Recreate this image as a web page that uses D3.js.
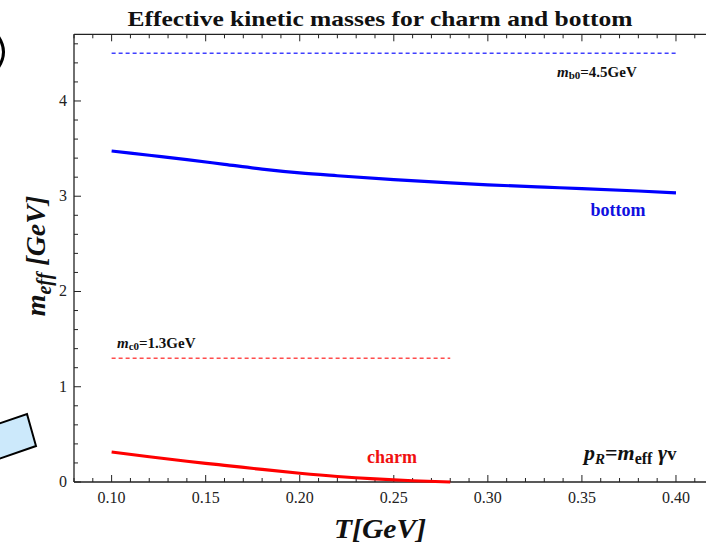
<!DOCTYPE html>
<html>
<head>
<meta charset="utf-8">
<script src="https://cdn.jsdelivr.net/npm/d3@7"></script>
<style>
  html, body { margin: 0; padding: 0; background: #fff; }
  svg { display: block; }
  text { font-family: "Liberation Serif", "Times New Roman", serif; }
</style>
</head>
<body>
<svg id="chart" width="706" height="544"></svg>
<script>
// Temperature grid (GeV) and effective kinetic masses (GeV)
const bottomT    = [0.10, 0.12, 0.14, 0.16, 0.18, 0.20, 0.22, 0.25, 0.28, 0.30, 0.33, 0.35, 0.38, 0.40];
const bottomMass = [3.475, 3.43, 3.385, 3.335, 3.285, 3.245, 3.215, 3.175, 3.14, 3.12, 3.095, 3.08, 3.055, 3.035];
const charmT     = [0.10, 0.12, 0.14, 0.15, 0.16, 0.18, 0.20, 0.22, 0.24, 0.26, 0.28];
const charmMass  = [0.315, 0.265, 0.218, 0.196, 0.175, 0.132, 0.092, 0.058, 0.032, 0.013, 0.0];
// Bare (vacuum) masses
const bareBottom = 4.5, bareCharm = 1.3;
const bareBottomRange = [0.10, 0.40];
const bareCharmRange  = [0.10, 0.28];
// Axis ticks
const xTicks = [0.10, 0.15, 0.20, 0.25, 0.30, 0.35, 0.40];
const yTicks = [0, 1, 2, 3, 4];

const svg = d3.select("#chart");
const x = d3.scaleLinear().domain([0.08, 0.42]).range([74, 713.6]);
const y = d3.scaleLinear().domain([0, 4.7]).range([482, 34.3]);

// stray marks from the neighbouring panel
svg.append("path").attr("d", "M -2 36 Q 9 52 -2 68")
  .attr("fill", "none").attr("stroke", "#000").attr("stroke-width", 3);
svg.append("path")
  .attr("d", "M -20 430 L 27 414 L 36 446 L -10 462 Z")
  .attr("fill", "#cce9fb").attr("stroke", "#000").attr("stroke-width", 2);

// frame: left and top edges, bottom axis line
const frame = svg.append("g").attr("stroke", "#222").attr("stroke-width", 1.3).attr("fill", "none");
frame.append("line").attr("x1", 74).attr("x2", 74).attr("y1", 34.3).attr("y2", 482);
frame.append("line").attr("x1", 74).attr("x2", 706).attr("y1", 34.3).attr("y2", 34.3);
frame.append("line").attr("x1", 74).attr("x2", 706).attr("y1", 482).attr("y2", 482);

// minor + major ticks pointing inward
const minorX = d3.range(0.08, 0.4201, 0.01);
const minorY = d3.range(0, 4.701, 0.2);
const tk = svg.append("g").attr("stroke", "#222").attr("stroke-width", 1);
minorX.forEach(v => {
  const major = xTicks.some(t => Math.abs(t - v) < 1e-6);
  const L = major ? 7 : 4;
  tk.append("line").attr("x1", x(v)).attr("x2", x(v)).attr("y1", 482).attr("y2", 482 - L);
  tk.append("line").attr("x1", x(v)).attr("x2", x(v)).attr("y1", 34.3).attr("y2", 34.3 + L);
});
minorY.forEach(v => {
  const major = yTicks.some(t => Math.abs(t - v) < 1e-6);
  const L = major ? 7 : 4;
  tk.append("line").attr("x1", 74).attr("x2", 74 + L).attr("y1", y(v)).attr("y2", y(v));
});

// tick labels
svg.append("g").selectAll("text").data(xTicks).join("text")
  .attr("x", d => x(d)).attr("y", 503).attr("text-anchor", "middle")
  .attr("font-size", 16).attr("fill", "#222").text(d => d3.format(".2f")(d));
svg.append("g").selectAll("text").data(yTicks).join("text")
  .attr("x", 67).attr("y", d => y(d) + 5).attr("text-anchor", "end")
  .attr("font-size", 16).attr("fill", "#222").text(d => d);

// bare-mass reference lines
svg.append("line").attr("x1", x(bareBottomRange[0])).attr("x2", x(bareBottomRange[1]))
  .attr("y1", y(bareBottom)).attr("y2", y(bareBottom))
  .attr("stroke", "#4040ff").attr("stroke-width", 1.5).attr("stroke-dasharray", "4,3");
svg.append("line").attr("x1", x(bareCharmRange[0])).attr("x2", x(bareCharmRange[1]))
  .attr("y1", y(bareCharm)).attr("y2", y(bareCharm))
  .attr("stroke", "#ff4d4d").attr("stroke-width", 1.5).attr("stroke-dasharray", "4,3");

// effective mass curves
const line = d3.line().x(d => x(d[0])).y(d => y(d[1])).curve(d3.curveMonotoneX);
svg.append("path").datum(d3.zip(bottomT, bottomMass)).attr("d", line)
  .attr("fill", "none").attr("stroke", "#0000ff").attr("stroke-width", 3.2);
svg.append("path").datum(d3.zip(charmT, charmMass)).attr("d", line)
  .attr("fill", "none").attr("stroke", "#ff0000").attr("stroke-width", 3.2);

// title
svg.append("text").attr("x", 380).attr("y", 26).attr("text-anchor", "middle")
  .attr("font-size", 21).attr("font-weight", "bold").attr("fill", "#111")
  .attr("textLength", 505).attr("lengthAdjust", "spacingAndGlyphs")
  .text("Effective kinetic masses for charm and bottom");

// annotations
const mb = svg.append("text").attr("x", 557).attr("y", 77).attr("font-size", 15)
  .attr("font-weight", "bold").attr("fill", "#111");
mb.append("tspan").attr("font-style", "italic").text("m");
mb.append("tspan").attr("font-size", 11).attr("dy", 2).text("b0");
mb.append("tspan").attr("dy", -2).text("=4.5GeV");

const mc = svg.append("text").attr("x", 117).attr("y", 348).attr("font-size", 15)
  .attr("font-weight", "bold").attr("fill", "#111");
mc.append("tspan").attr("font-style", "italic").text("m");
mc.append("tspan").attr("font-size", 11).attr("dy", 2).text("c0");
mc.append("tspan").attr("dy", -2).text("=1.3GeV");

svg.append("text").attr("x", 618).attr("y", 216).attr("text-anchor", "middle")
  .attr("font-size", 18).attr("font-weight", "bold").attr("fill", "#1010e0").text("bottom");
svg.append("text").attr("x", 392).attr("y", 463).attr("text-anchor", "middle")
  .attr("font-size", 18).attr("font-weight", "bold").attr("fill", "#f01010").text("charm");

const pr = svg.append("text").attr("x", 584).attr("y", 460).attr("font-size", 22)
  .attr("font-weight", "bold").attr("fill", "#111");
pr.append("tspan").attr("font-style", "italic").text("p");
pr.append("tspan").attr("font-style", "italic").attr("font-size", 15).attr("dy", 4).text("R");
pr.append("tspan").attr("dy", -4).text("=");
pr.append("tspan").attr("font-style", "italic").text("m");
pr.append("tspan").attr("font-size", 16).attr("dy", 4).text("eff");
pr.append("tspan").attr("dy", -4).attr("font-style", "italic").text(" γ");
pr.append("tspan").attr("font-size", 19).text("v");

// axis titles
svg.append("text").attr("x", 380).attr("y", 538).attr("text-anchor", "middle")
  .attr("font-size", 27).attr("font-weight", "bold").attr("font-style", "italic").attr("fill", "#111")
  .attr("textLength", 92).attr("lengthAdjust", "spacingAndGlyphs")
  .text("T[GeV]");

const yt = svg.append("text").attr("transform", "translate(45,256) rotate(-90)")
  .attr("text-anchor", "middle").attr("font-size", 28).attr("font-weight", "bold")
  .attr("font-style", "italic").attr("fill", "#111");
yt.append("tspan").text("m");
yt.append("tspan").attr("font-size", 20).attr("dy", 6).text("eff");
yt.append("tspan").attr("dy", -6).text(" [GeV]");
</script>
</body>
</html>
